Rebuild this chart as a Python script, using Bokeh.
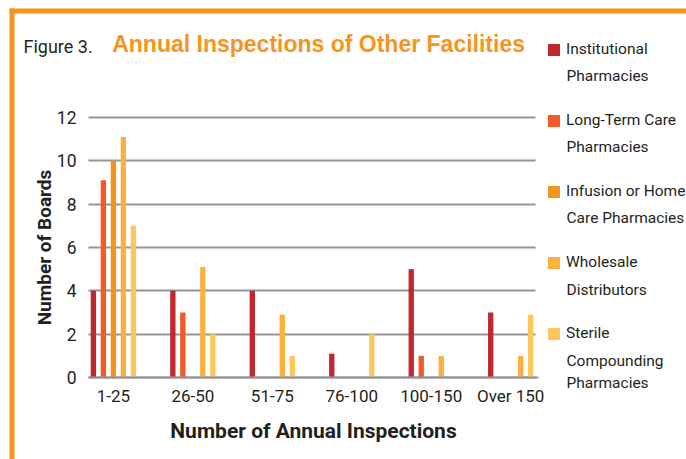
import numpy as np
from bokeh.plotting import figure
from bokeh.models import Range1d, FixedTicker, Legend, LegendItem, Label, BoxAnnotation
from bokeh.embed import file_html
from bokeh.resources import INLINE

categories = ["1-25", "26-50", "51-75", "76-100", "100-150", "Over 150"]
series_names = ["Institutional\nPharmacies", "Long-Term Care\nPharmacies",
                "Infusion or Home\nCare Pharmacies", "Wholesale\nDistributors",
                "Sterile\nCompounding\nPharmacies"]
institutional = [4, 4, 4, 1.1, 5.0, 3]
long_term_care = [9.1, 3, 0, 0, 1, 0]
infusion_home = [10, 0, 0, 0, 0, 0]
wholesale = [11.1, 5.1, 2.9, 0, 1, 1]
sterile = [7, 2, 1, 2, 0, 2.9]
y_ticks = [0, 2, 4, 6, 8, 10, 12]

series_values = [institutional, long_term_care, infusion_home, wholesale, sterile]
colors = ["#C1272D", "#F15A29", "#F7941D", "#FBB040", "#FDC75B"]

FONT = "Roboto"
TEXT = "#231F20"
ORANGE = "#F7941D"
GRID = "#939598"
H = 459

# plot area in data units: x -0.313..5.35, y 0..12 ; frame covers the whole canvas
X0, X1 = -0.313, 5.35
p = figure(width=686, height=H, min_border=0,
           x_range=Range1d(-1.4204, 7.2125), y_range=Range1d(-3.7846, 17.4),
           output_backend="svg", toolbar_location=None,
           background_fill_color="white", border_fill_color="white")
p.outline_line_color = None

# orange frame
p.add_layout(BoxAnnotation(left=9, right=14, top=H - 8, bottom=-20,
                           left_units="screen", right_units="screen",
                           top_units="screen", bottom_units="screen",
                           fill_color=ORANGE, fill_alpha=1, line_color=None))
p.add_layout(BoxAnnotation(left=9, right=720, top=H - 8, bottom=H - 13,
                           left_units="screen", right_units="screen",
                           top_units="screen", bottom_units="screen",
                           fill_color=ORANGE, fill_alpha=1, line_color=None))

# titles
p.add_layout(Label(x=23, y=H - 45.5, x_units="screen", y_units="screen", text="Figure 3.",
                   text_font=FONT, text_font_size="18px", text_color=TEXT,
                   text_baseline="alphabetic"))
p.add_layout(Label(x=111.7, y=H - 43.5, x_units="screen", y_units="screen",
                   text="Annual Inspections of Other Facilities",
                   text_font="Liberation Sans", text_font_size="23px", text_font_style="bold",
                   text_color=ORANGE, text_baseline="alphabetic"))

idx = np.arange(len(categories))
step = 0.1258
bar_w = 0.067
renderers = []
for k, (vals, col) in enumerate(zip(series_values, colors)):
    r = p.vbar(x=idx + (k - 2) * step, top=vals, width=bar_w, bottom=0,
               fill_color=col, line_color=None)
    renderers.append(r)

# axes (fixed inside the frame)
xa = p.xaxis[0]
xa.fixed_location = 0
xa.bounds = (X0, X1)
xa.ticker = FixedTicker(ticks=list(idx))
xa.major_label_overrides = {int(i): c for i, c in zip(idx, categories)}
xa.major_tick_line_color = None
xa.minor_tick_line_color = None
xa.axis_line_color = GRID
xa.axis_line_width = 2
xa.major_label_standoff = 2
xa.major_label_text_font = FONT
xa.major_label_text_font_size = "17px"
xa.major_label_text_color = TEXT
xa.axis_label = "Number of Annual Inspections"
xa.axis_label_text_font = FONT
xa.axis_label_text_font_size = "21px"
xa.axis_label_text_font_style = "bold"
xa.axis_label_text_color = TEXT
xa.axis_label_standoff = 10

ya = p.yaxis[0]
ya.fixed_location = X0
ya.bounds = (0, 12)
ya.ticker = FixedTicker(ticks=y_ticks)
ya.axis_line_color = None
ya.major_tick_line_color = None
ya.minor_tick_line_color = None
ya.major_label_standoff = 6
ya.major_label_text_font = FONT
ya.major_label_text_font_size = "17.5px"
ya.major_label_text_color = TEXT
ya.axis_label = "Number of Boards"
ya.axis_label_text_font = FONT
ya.axis_label_text_font_size = "19px"
ya.axis_label_text_font_style = "bold"
ya.axis_label_text_color = TEXT
ya.axis_label_standoff = -2

p.xgrid.grid_line_color = None
p.ygrid.ticker = FixedTicker(ticks=y_ticks)
p.ygrid.bounds = (0, 12)
p.ygrid.cross_bounds = (X0, 5.31)
p.ygrid.grid_line_color = GRID
p.ygrid.grid_line_width = 2

# legend: first line of each name in the legend, following lines as labels
first_lines = [n.split("\n")[0] for n in series_names]
more_lines = [n.split("\n")[1:] for n in series_names]
LEG_X, LEG_TOP, PITCH, ITEM_H = 546, 37.5, 71.4, 20
items = [LegendItem(label=t, renderers=[r]) for t, r in zip(first_lines, renderers)]
n_items = len(items)
leg_bottom = LEG_TOP + n_items * ITEM_H + (n_items - 1) * (PITCH - ITEM_H)
legend = Legend(items=items, location=(LEG_X, H - leg_bottom), padding=0, margin=0,
                glyph_width=15, glyph_height=15, label_height=ITEM_H,
                label_standoff=5, spacing=int(round(PITCH - ITEM_H)),
                label_text_font=FONT, label_text_font_size="15.5px",
                label_text_color=TEXT,
                border_line_color=None, background_fill_alpha=0)
p.add_layout(legend)

for i, lines in enumerate(more_lines):
    center = LEG_TOP + ITEM_H / 2 + i * PITCH
    for j, t in enumerate(lines):
        p.add_layout(Label(x=LEG_X + 20, y=H - (center + 5.5 + 22 * (j + 1)),
                           x_units="screen", y_units="screen", text=t,
                           text_font=FONT, text_font_size="15.5px", text_color=TEXT,
                           text_baseline="alphabetic"))

open("out.html", "w").write(file_html(p, INLINE))
